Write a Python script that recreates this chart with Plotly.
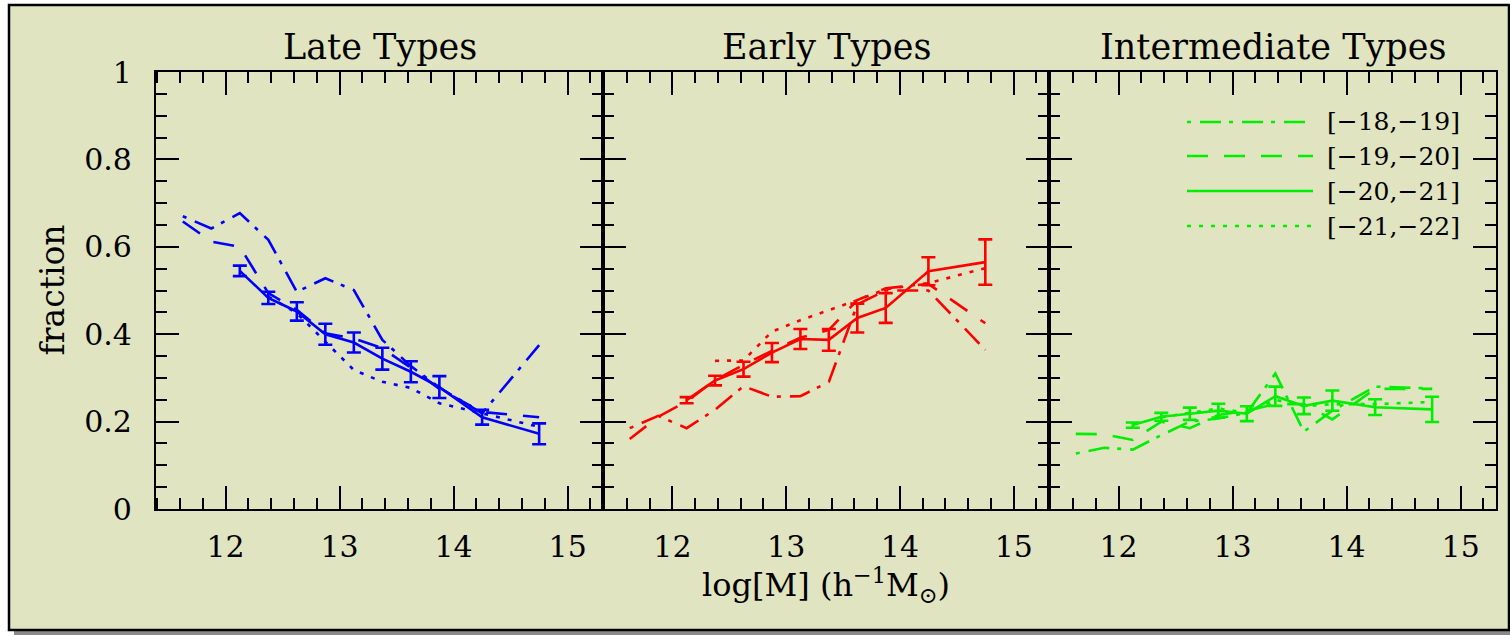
import plotly.graph_objects as go

# ---------------- data ----------------
logM = [11.625, 11.875, 12.125, 12.375, 12.625, 12.875, 13.125, 13.375, 13.625, 13.875, 14.25, 14.75]
logM_solid = logM[2:]
logM_dotted = logM[3:]

panel_titles = ["Late Types", "Early Types", "Intermediate Types"]
panel_colors = ["#0000ff", "#ff0000", "#00ee00"]
mag_bins = ["[\u221218,\u221219]", "[\u221219,\u221220]", "[\u221220,\u221221]", "[\u221221,\u221222]"]

# Late types
late_m18 = [0.670, 0.642, 0.677, 0.616, 0.497, 0.528, 0.501, 0.387, 0.327, 0.278, 0.219, 0.375]
late_m19 = [0.658, 0.612, 0.600, 0.494, 0.456, 0.402, 0.390, 0.368, 0.323, 0.275, 0.222, 0.210]
late_m20 = [0.545, 0.483, 0.452, 0.400, 0.381, 0.344, 0.314, 0.279, 0.210, 0.172]
late_m20_err = [0.012, 0.014, 0.021, 0.024, 0.023, 0.025, 0.024, 0.025, 0.017, 0.024]
late_m21 = [0.486, 0.448, 0.383, 0.318, 0.291, 0.277, 0.242, 0.219, 0.188]

# Early types
early_m18 = [0.185, 0.213, 0.185, 0.227, 0.281, 0.257, 0.258, 0.291, 0.468, 0.500, 0.500, 0.364]
early_m19 = [0.160, 0.211, 0.246, 0.295, 0.330, 0.362, 0.392, 0.410, 0.478, 0.505, 0.515, 0.425]
early_m20 = [0.249, 0.294, 0.320, 0.358, 0.389, 0.387, 0.437, 0.460, 0.544, 0.565]
early_m20_err = [0.007, 0.011, 0.017, 0.022, 0.023, 0.025, 0.033, 0.034, 0.032, 0.052]
early_m21 = [0.339, 0.340, 0.406, 0.432, 0.455, 0.478, 0.503, 0.517, 0.551]

# Intermediate types
inter_m18 = [0.127, 0.140, 0.136, 0.169, 0.200, 0.207, 0.220, 0.310, 0.177, 0.225, 0.280, 0.276]
inter_m19 = [0.172, 0.171, 0.158, 0.200, 0.185, 0.215, 0.225, 0.240, 0.240, 0.205, 0.275, 0.275]
inter_m20 = [0.192, 0.211, 0.218, 0.225, 0.218, 0.258, 0.236, 0.248, 0.233, 0.228]
inter_m20_err = [0.006, 0.009, 0.014, 0.016, 0.017, 0.022, 0.019, 0.023, 0.018, 0.029]
inter_m21 = [0.210, 0.220, 0.230, 0.220, 0.250, 0.235, 0.240, 0.240, 0.245]

panels = [
    (late_m18, late_m19, late_m20, late_m20_err, late_m21),
    (early_m18, early_m19, early_m20, early_m20_err, early_m21),
    (inter_m18, inter_m19, inter_m20, inter_m20_err, inter_m21),
]

# ---------------- styling ----------------
FONT = "DejaVu Serif"
W, H = 1510, 635
L, R, T, B = 156, 14, 72, 126
PW = W - L - R   # 1340
PH = H - T - B   # 437
BG = "#e1e4c0"
LW = 2.6
DASHDOT = "4px,9px,21px,8px"
DASHED = "21px,16px"
DOTTED = "4px,8px"
styles = [DASHDOT, DASHED, "solid", DOTTED]

def px2x(px):
    return (px - L) / PW

def px2y(py):
    return (H - B - py) / PH

edges = [156, 603, 1049, 1496]
domains = [[px2x(edges[i]), px2x(edges[i + 1])] for i in range(3)]
xrange_ = [11.39, 15.31]

fig = go.Figure()

for i, (m18, m19, m20, m20e, m21) in enumerate(panels):
    xa = "x" if i == 0 else f"x{i+1}"
    ya = "y" if i == 0 else f"y{i+1}"
    c = panel_colors[i]
    fig.add_trace(go.Scatter(x=logM, y=m18, mode="lines", xaxis=xa, yaxis=ya,
                             line=dict(color=c, width=LW, dash=DASHDOT), showlegend=False))
    fig.add_trace(go.Scatter(x=logM, y=m19, mode="lines", xaxis=xa, yaxis=ya,
                             line=dict(color=c, width=LW, dash=DASHED), showlegend=False))
    fig.add_trace(go.Scatter(x=logM_dotted, y=m21, mode="lines", xaxis=xa, yaxis=ya,
                             line=dict(color=c, width=LW, dash=DOTTED), showlegend=False))
    fig.add_trace(go.Scatter(x=logM_solid, y=m20, mode="lines", xaxis=xa, yaxis=ya,
                             line=dict(color=c, width=LW),
                             error_y=dict(type="data", array=m20e, visible=True,
                                          color=c, thickness=2.6, width=7),
                             showlegend=False))

axis_common = dict(
    showline=True, linecolor="black", linewidth=2.2, mirror="allticks",
    ticks="inside", tickcolor="black", tickwidth=2.2, ticklen=23,
    showgrid=False, zeroline=False,
    tickfont=dict(family=FONT, size=30, color="black"),
)

layout = dict(
    width=W, height=H,
    margin=dict(l=L, r=R, t=T, b=B, pad=0),
    paper_bgcolor="white",
    plot_bgcolor=BG,
    font=dict(family=FONT, color="black"),
    showlegend=False,
)

for i in range(3):
    xk = "xaxis" if i == 0 else f"xaxis{i+1}"
    yk = "yaxis" if i == 0 else f"yaxis{i+1}"
    ya = "y" if i == 0 else f"y{i+1}"
    xa = "x" if i == 0 else f"x{i+1}"
    layout[xk] = dict(axis_common, domain=domains[i], range=xrange_, anchor=ya,
                      tick0=0, dtick=1, ticklabelstandoff=10,
                      minor=dict(ticks="inside", ticklen=11, tickwidth=2.2,
                                 tickcolor="black", dtick=0.2, tick0=0, showgrid=False))
    layout[yk] = dict(axis_common, domain=[0, 1], range=[0, 1], anchor=xa,
                      tick0=0, dtick=0.2, showticklabels=(i == 0), ticklabelstandoff=16,
                      minor=dict(ticks="inside", ticklen=11, tickwidth=2.2,
                                 tickcolor="black", dtick=0.05, tick0=0, showgrid=False))

fig.update_layout(**layout)

# outer frame with drop shadow
fig.add_shape(type="rect", xref="paper", yref="paper",
              x0=px2x(14), x1=px2x(1516), y0=px2y(636), y1=px2y(10),
              fillcolor="#8a8a8a", line=dict(width=0), layer="below")
fig.add_shape(type="rect", xref="paper", yref="paper",
              x0=px2x(9), x1=px2x(1509), y0=px2y(630), y1=px2y(5),
              fillcolor=BG, line=dict(color="black", width=2.5), layer="below")

# panel titles
for i, t in enumerate(panel_titles):
    xa = "x" if i == 0 else f"x{i+1}"
    fig.add_annotation(text=t, xref=f"{xa} domain", yref="paper", x=0.5, y=px2y(47),
                       xanchor="center", yanchor="middle", showarrow=False,
                       font=dict(family=FONT, size=35, color="black"))

# axis titles
fig.add_annotation(text="log[M] (h<sup>\u22121</sup>M<sub>\u2299</sub>)", xref="paper", yref="paper",
                   x=0.5, y=px2y(585), xanchor="center", yanchor="middle", showarrow=False,
                   font=dict(family=FONT, size=32, color="black"))
fig.add_annotation(text="fraction", xref="paper", yref="paper",
                   x=px2x(52), y=0.5, xanchor="center", yanchor="middle", showarrow=False,
                   textangle=-90, font=dict(family=FONT, size=33, color="black"))

# legend drawn in panel 3
legend_rows_py = [122, 156, 191, 226]
for k, lab in enumerate(mag_bins):
    yy = px2y(legend_rows_py[k])
    dash = styles[k]
    fig.add_shape(type="line", xref="paper", yref="paper",
                  x0=px2x(1187), x1=px2x(1313), y0=yy, y1=yy,
                  line=dict(color=panel_colors[2], width=LW, dash=dash))
    fig.add_annotation(text=lab, xref="paper", yref="paper", x=px2x(1325), y=yy,
                       xanchor="left", yanchor="middle", showarrow=False,
                       font=dict(family=FONT, size=25, color="black"))

fig.write_html("out.html")
